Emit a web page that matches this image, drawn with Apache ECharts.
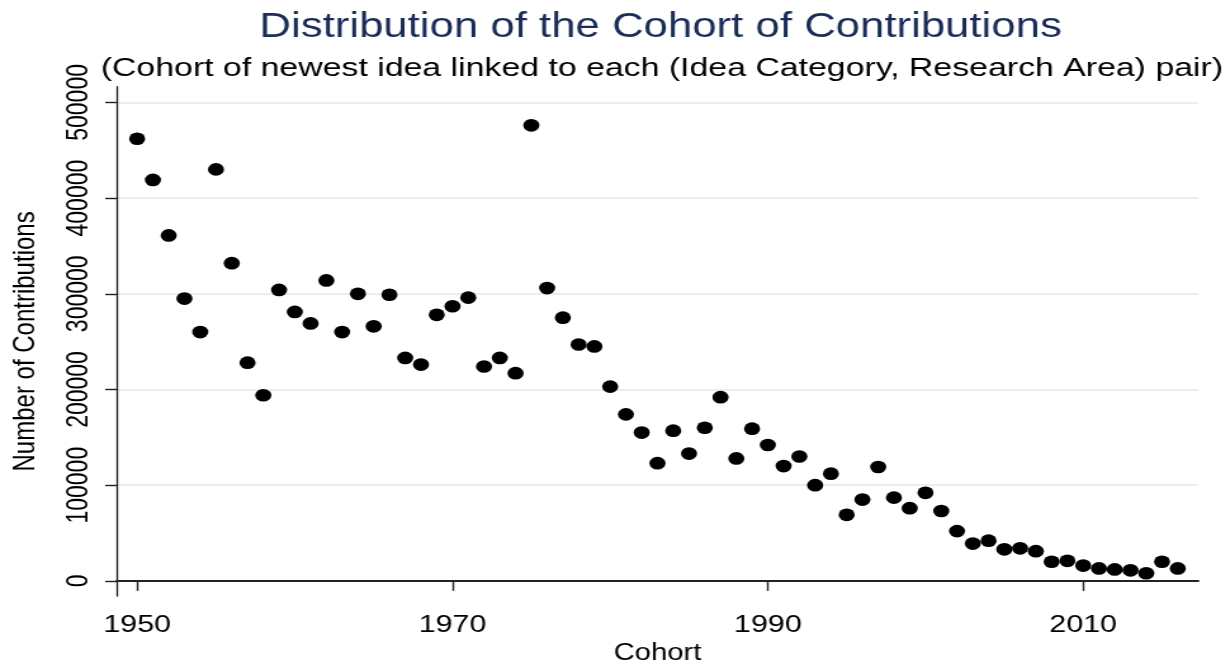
<!DOCTYPE html>
<html>
<head>
<meta charset="utf-8">
<script src="https://cdn.jsdelivr.net/npm/echarts@6/dist/echarts.min.js"></script>
<style>
  html, body { margin: 0; padding: 0; background: #fff; overflow: hidden; }
  /* the reference picture is stretched sideways, so draw narrow and stretch it */
  #main { width: 970px; height: 670px; transform: scaleX(1.268); transform-origin: 0 0; }
</style>
</head>
<body>
<div id="main"></div>
<script>
// cohort years and number of contributions
const cohorts = [1950, 1951, 1952, 1953, 1954, 1955, 1956, 1957, 1958, 1959,
  1960, 1961, 1962, 1963, 1964, 1965, 1966, 1967, 1968, 1969,
  1970, 1971, 1972, 1973, 1974, 1975, 1976, 1977, 1978, 1979,
  1980, 1981, 1982, 1983, 1984, 1985, 1986, 1987, 1988, 1989,
  1990, 1991, 1992, 1993, 1994, 1995, 1996, 1997, 1998, 1999,
  2000, 2001, 2002, 2003, 2004, 2005, 2006, 2007, 2008, 2009,
  2010, 2011, 2012, 2013, 2014, 2015, 2016]
const contributions = [462000, 419000, 361000, 295000, 260000, 430000, 332000, 228000, 194000, 304000,
  281000, 269000, 314000, 260000, 300000, 266000, 299000, 233000, 226000, 278000,
  287000, 296000, 224000, 233000, 217000, 476000, 306000, 275000, 247000, 245000,
  203000, 174000, 155000, 123000, 157000, 133000, 160000, 192000, 128000, 159000,
  142000, 120000, 130000, 100000, 112000, 69000, 85000, 119000, 87000, 76000,
  92000, 73000, 52000, 39000, 42000, 33000, 34000, 31000, 20000, 21000,
  16000, 13000, 12000, 11000, 8000, 20000, 13000]
const xTicks = [1950, 1970, 1990, 2010]
const yTicks = [0, 100000, 200000, 300000, 400000, 500000]

const points = cohorts.map((c, i) => [c, contributions[i]])
const font = 'Liberation Sans, Arial, sans-serif'

let myChart = echarts.init(document.getElementById('main'))
let option = {
  animation: false,
  backgroundColor: '#fff',
  graphic: [
    {
      type: 'text', x: 521, y: 10,
      style: {
        text: 'Distribution of the Cohort of Contributions',
        font: '34.5px ' + font, fill: '#1b2d57',
        textAlign: 'center', textVerticalAlign: 'top'
      }
    },
    {
      type: 'text', x: 522, y: 55,
      style: {
        text: '(Cohort of newest idea linked to each (Idea Category, Research Area) pair)',
        font: '26.7px ' + font, fill: '#000',
        textAlign: 'center', textVerticalAlign: 'top'
      }
    }
  ],
  grid: { left: 90, right: 25, top: 86.7, bottom: 70 },
  xAxis: {
    type: 'value',
    min: 1948.7,
    max: 2017.3,
    name: 'Cohort',
    nameLocation: 'middle',
    nameGap: 40,
    nameTextStyle: { color: '#000', fontSize: 23, fontFamily: font },
    axisLine: { show: true, lineStyle: { color: '#222', width: 1.8 } },
    axisTick: { show: true, length: 10, customValues: xTicks, lineStyle: { color: '#222', width: 1.4 } },
    axisLabel: {
      customValues: xTicks, color: '#000', fontSize: 24, fontFamily: font, margin: 17,
      formatter: v => String(v)
    },
    splitLine: { show: false }
  },
  yAxis: {
    type: 'value',
    min: -15900,
    max: 516400,
    name: 'Number of Contributions',
    nameLocation: 'middle',
    nameGap: 60,
    nameRotate: 90,
    nameTextStyle: { color: '#000', fontSize: 24, fontFamily: font },
    axisLine: { show: true, lineStyle: { color: '#222', width: 1.3 } },
    axisTick: { show: true, length: 9, customValues: yTicks, lineStyle: { color: '#222', width: 1.4 } },
    axisLabel: {
      customValues: yTicks, rotate: 90, color: '#000', fontSize: 23, fontFamily: font, margin: 18,
      formatter: v => String(v)
    },
    splitLine: { show: true, lineStyle: { color: '#e8eef3', width: 2 } }
  },
  series: [
    {
      type: 'scatter',
      data: points,
      symbol: 'circle',
      symbolSize: 12.7,
      itemStyle: { color: '#000', opacity: 1 }
    }
  ]
}
myChart.setOption(option)
</script>
</body>
</html>
